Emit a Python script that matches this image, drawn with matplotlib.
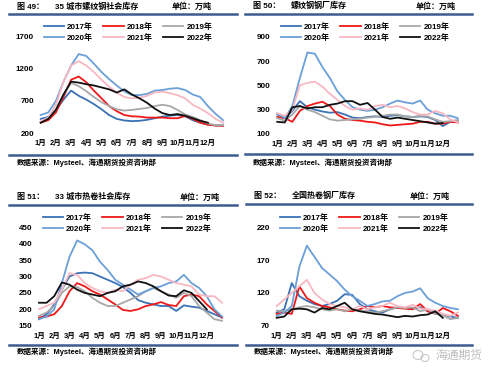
import matplotlib
matplotlib.use("Agg")
import matplotlib.pyplot as plt
import numpy as np
from matplotlib.lines import Line2D
from matplotlib.patches import Ellipse

W, H = 500, 377
FONT = ['Liberation Sans', 'Noto Sans CJK SC', 'DejaVu Sans']
CJK = ['Noto Sans CJK SC', 'DejaVu Sans']

# ---------------- data (half-month steps from 1月) ----------------
years = ['2017年', '2018年', '2019年', '2020年', '2021年', '2022年']
colors = ['#3A72B5', '#F01818', '#A8A8A8', '#6B9FD8', '#F7B8C2', '#111111']
months = ['1月', '2月', '3月', '4月', '5月', '6月', '7月', '8月', '9月', '10月', '11月', '12月']

# 35城市螺纹钢社会库存
rebar_social = {
    '2017年': [420, 450, 560, 720, 860, 780, 720, 650, 570, 480, 420, 395, 385, 390, 405, 430, 455, 470, 480, 460, 400, 360, 330, 320, 320],
    '2018年': [360, 400, 520, 760, 1030, 1080, 990, 860, 740, 620, 540, 480, 460, 455, 440, 440, 440, 430, 430, 465, 420, 360, 330, 315, 310],
    '2019年': [370, 430, 560, 800, 980, 930, 850, 760, 680, 620, 570, 550, 560, 575, 590, 620, 640, 620, 560, 490, 450, 400, 350, 320, 320],
    '2020年': [480, 520, 700, 1000, 1250, 1430, 1400, 1280, 1150, 1040, 940, 850, 790, 790, 810, 860, 870, 890, 900, 870, 800, 760, 620, 500, 400],
    '2021年': [380, 440, 640, 1000, 1250, 1320, 1250, 1150, 1030, 920, 830, 760, 740, 750, 780, 830, 845, 820, 790, 740, 640, 580, 510, 420, 360],
    '2022年': [360, 420, 560, 800, 1000, 985, 960, 940, 910, 880, 830, 880, 800, 740, 670, 580, 510, 480, 495, 470, 430, 390, 360],
}
# 螺纹钢钢厂库存
rebar_mill = {
    '2017年': [260, 230, 290, 370, 320, 300, 285, 275, 280, 260, 235, 230, 240, 245, 240, 250, 255, 245, 240, 245, 240, 215, 165, 200, 210],
    '2018年': [240, 230, 200, 290, 330, 350, 365, 330, 260, 225, 215, 210, 200, 195, 180, 170, 175, 180, 185, 200, 200, 185, 185, 200, 195],
    '2019年': [230, 210, 260, 330, 300, 280, 250, 220, 210, 215, 220, 225, 235, 240, 250, 260, 260, 245, 240, 250, 245, 220, 200, 205, 215],
    '2020年': [270, 230, 330, 560, 770, 760, 650, 560, 450, 380, 320, 300, 290, 300, 320, 350, 375, 360, 350, 375, 300, 270, 250, 250, 230],
    '2021年': [270, 250, 300, 500, 520, 530, 490, 430, 380, 330, 300, 310, 300, 330, 340, 320, 330, 310, 280, 260, 260, 290, 270, 220, 195],
    '2022年': [200, 195, 320, 330, 310, 320, 320, 340, 350, 370, 370, 340, 355, 300, 240, 225, 235, 225, 215, 205, 195, 185, 190],
}
# 33城市热卷社会库存
hrc_social = {
    '2017年': [170, 185, 215, 260, 300, 310, 312, 310, 300, 290, 280, 268, 250, 228, 220, 215, 210, 210, 195, 212, 208, 205, 195, 185, 175],
    '2018年': [175, 178, 185, 210, 255, 280, 270, 255, 245, 230, 215, 198, 195, 200, 210, 215, 222, 213, 210, 240, 245, 240, 215, 195, 175],
    '2019年': [180, 190, 210, 250, 270, 268, 255, 235, 220, 210, 210, 220, 230, 240, 255, 265, 255, 245, 235, 250, 240, 210, 190, 170, 165],
    '2020年': [170, 178, 200, 280, 360, 410, 398, 380, 345, 320, 290, 275, 260, 245, 255, 265, 270, 280, 285, 305, 280, 265, 240, 200, 178],
    '2021年': [200, 210, 220, 260, 310, 305, 280, 265, 255, 250, 260, 255, 275, 290, 295, 305, 300, 290, 280, 275, 270, 245, 240, 240, 220],
    '2022年': [220, 220, 240, 282, 275, 260, 250, 245, 240, 250, 255, 270, 275, 285, 280, 270, 255, 242, 240, 258, 250, 225, 200],
}
# 全国热卷钢厂库存
hrc_mill = {
    '2017年': [90, 95, 135, 115, 108, 103, 100, 103, 108, 118, 117, 103, 95, 92, 90, 95, 98, 97, 96, 98, 92, 90, 87, 84, 82],
    '2018年': [88, 90, 88, 130, 112, 105, 100, 98, 95, 93, 92, 95, 100, 98, 100, 98, 97, 96, 95, 103, 92, 88, 97, 92, 85],
    '2019年': [93, 92, 95, 98, 100, 98, 95, 93, 95, 92, 95, 93, 92, 90, 92, 95, 98, 97, 98, 92, 95, 88, 86, 80, 82],
    '2020年': [85, 90, 100, 160, 192, 175, 158, 148, 138, 125, 115, 108, 100, 103, 107, 108, 115, 120, 122, 127, 112, 105, 100, 97, 95],
    '2021年': [100, 110, 120, 130, 140, 120, 110, 103, 100, 98, 95, 100, 95, 98, 100, 105, 100, 98, 102, 96, 95, 93, 88, 85, 90],
    '2022年': [82, 84, 95, 96, 95, 90, 97, 95, 100, 105, 95, 92, 90, 88, 87, 85, 83, 85, 84, 86, 87, 92, 82],
}

fig = plt.figure(figsize=(W / 100, H / 100), dpi=100)


def fx(px):
    return px / W


def fy(py):
    return 1 - py / H


def rule(x0, x1, py):
    fig.add_artist(Line2D([fx(x0), fx(x1)], [fy(py), fy(py)], color='#3D5C8E', lw=1.8,
                          transform=fig.transFigure))


def panel(data, m0_px, step_px, ybot_px, ytop_px, ylo, yhi, ticks,
          title_y, x_left, num, name, unit_x, leg_cx, rule_x1, bot_rule_y, src_y):
    xlo, xhi = -0.4, 12.4
    left = m0_px + xlo * step_px
    width = (xhi - xlo) * step_px
    ax = fig.add_axes([fx(left), fy(ybot_px), width / W, (ybot_px - ytop_px) / H])
    handles = []
    for yr, c in zip(years, colors):
        vals = data[yr]
        x = np.arange(len(vals)) * 0.5
        ln, = ax.plot(x, vals, color=c, lw=1.3, clip_on=False, solid_joinstyle='round')
        handles.append(ln)
    ax.set_xlim(xlo, xhi)
    ax.set_ylim(ylo, yhi)
    ax.set_yticks(ticks)
    ax.set_yticklabels([str(t) for t in ticks], fontsize=5.8, fontweight='bold', family=FONT)
    ax.set_xticks(np.arange(12))
    ax.set_xticklabels(months, fontsize=5.4, fontweight='bold', family=FONT)
    ax.tick_params(axis='y', length=0, pad=0.5)
    ax.tick_params(axis='x', length=0, pad=5)
    for s in ax.spines.values():
        s.set_visible(False)
    ax.patch.set_alpha(0)

    order = [0, 3, 1, 4, 2, 5]
    ax.legend([handles[i] for i in order], [years[i] for i in order], ncol=3, loc='center',
              bbox_to_anchor=(fx(leg_cx), fy(ytop_px - 4)), bbox_transform=fig.transFigure,
              frameon=False, prop={'family': FONT, 'size': 5.8, 'weight': 'bold'},
              handlelength=2.5, handletextpad=0.4, columnspacing=1.3, labelspacing=0.35,
              borderpad=0)

    # header
    fig.text(fx(x_left), fy(title_y), '图 ' + num + '：', fontsize=5.8, fontweight='bold',
             family=FONT, va='center', ha='left')
    fig.text(fx(x_left + 38), fy(title_y), name, fontsize=5.8, fontweight='bold',
             family=FONT, va='center', ha='left')
    fig.text(fx(unit_x), fy(title_y), '单位：万吨', fontsize=5.8, fontweight='bold',
             family=CJK, va='center', ha='left')
    rule(x_left - 8, rule_x1, title_y + 7.5)
    rule(x_left - 8, rule_x1, bot_rule_y)
    fig.text(fx(x_left), fy(src_y), '数据来源：Mysteel、海通期货投资咨询部', fontsize=5.4,
             fontweight='bold', family=FONT, va='center', ha='left')
    return ax


panel(rebar_social, 40.7, 15.2, 133, 36.7, 200, 1700, [200, 700, 1200, 1700],
      6.8, 17, '49', '35 城市螺纹钢社会库存', 172, 128, 237, 155, 163)
panel(rebar_mill, 277.3, 15.04, 134, 36.7, 100, 900, [100, 300, 500, 700, 900],
      6, 253, '50', '螺纹钢钢厂库存', 416, 365, 472, 154.5, 163)
panel(hrc_social, 39, 15.25, 325.7, 227.3, 150, 450, [150, 200, 250, 300, 350, 400, 450],
      197, 17, '51', '33 城市热卷社会库存', 180, 127, 237, 345, 352)
panel(hrc_mill, 276.7, 15.1, 325.7, 227.3, 70, 220, [70, 120, 170, 220],
      196, 254, '52', '全国热卷钢厂库存', 410, 364, 472, 344.5, 352)

# watermark
fig.add_artist(Ellipse((fx(418), fy(355)), 10 / W, 9 / H, fill=False, ec='#C8C8C8', lw=0.8,
                       transform=fig.transFigure))
fig.add_artist(Ellipse((fx(425), fy(358)), 8 / W, 7 / H, fill=False, ec='#C8C8C8', lw=0.8,
                       transform=fig.transFigure))
fig.text(fx(435), fy(355), '海通期货', fontsize=8.5, color='#BDBDBD', family=CJK,
         va='center', ha='left')

fig.savefig('out.png', dpi=100)
